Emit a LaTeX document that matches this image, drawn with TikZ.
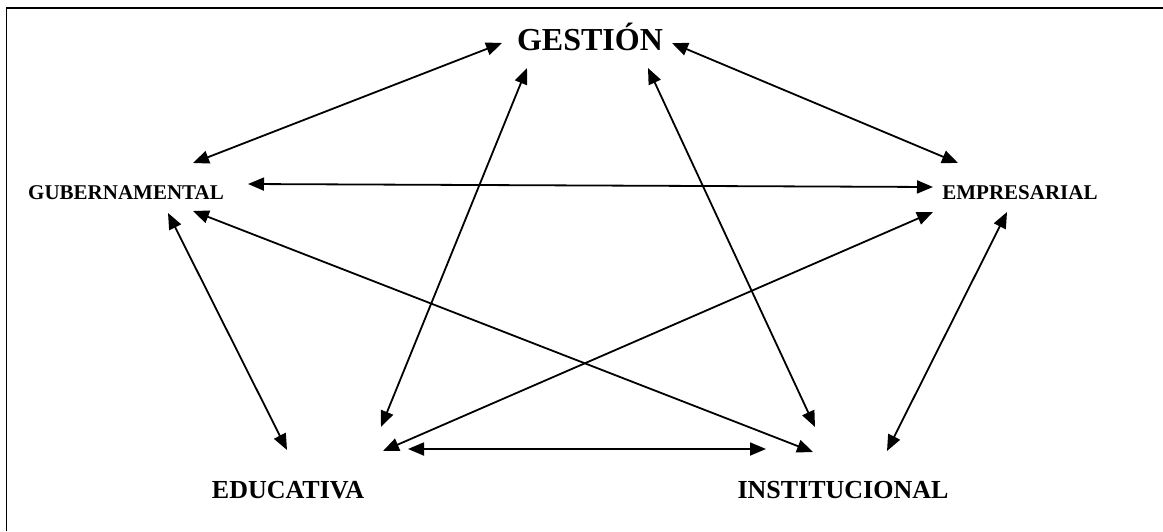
\documentclass[tikz,border=0pt]{standalone}
\usepackage{fontspec}
\setmainfont{Liberation Serif}
\usetikzlibrary{arrows.meta}
\begin{document}
\begin{tikzpicture}[x=1pt,y=-1pt,
  lbl/.style={anchor=base,inner sep=0pt,font=\bfseries},
  link/.style={line width=1.8pt,{Triangle[length=16pt,width=13pt]}-{Triangle[length=16pt,width=13pt]}}]
\useasboundingbox (0,0) rectangle (1163,531);
\draw[line width=1.8pt] (6.5,531) -- (6.5,8) -- (1163,8);
% labels
\node[lbl,font=\bfseries\fontsize{32}{38}\selectfont] (ges) at (590,50) {GESTIÓN};
\node[lbl,font=\bfseries\fontsize{21}{25}\selectfont] (gub) at (126,199) {GUBERNAMENTAL};
\node[lbl,font=\bfseries\fontsize{21}{25}\selectfont] (emp) at (1020,199) {EMPRESARIAL};
\node[lbl,font=\bfseries\fontsize{26}{31}\selectfont] (edu) at (288,498) {EDUCATIVA};
\node[lbl,font=\bfseries\fontsize{26}{31}\selectfont] (ins) at (843,498) {INSTITUCIONAL};
% endpoints
\coordinate (gesL) at (502,43);
\coordinate (gesR) at (672,43);
\coordinate (gesE) at (527,68);
\coordinate (gesI) at (648,68);
\coordinate (gubG) at (193,163);
\coordinate (gubE) at (248,184);
\coordinate (gubD) at (168,213);
\coordinate (gubI) at (193,211);
\coordinate (empG) at (958,163);
\coordinate (empW) at (933,187);
\coordinate (empD) at (933,212);
\coordinate (empI) at (1007,212);
\coordinate (eduG) at (381,427);
\coordinate (eduU) at (287,450);
\coordinate (eduE) at (383,451);
\coordinate (eduI) at (408,449);
\coordinate (insG) at (815,427);
\coordinate (insU) at (813,452);
\coordinate (insE) at (887,451);
\coordinate (insD) at (766,449);
% connectors
\draw[link] (gesL) -- (gubG);
\draw[link] (gesR) -- (empG);
\draw[link] (gesE) -- (eduG);
\draw[link] (gesI) -- (insG);
\draw[link] (gubE) -- (empW);
\draw[link] (gubD) -- (eduU);
\draw[link] (gubI) -- (insU);
\draw[link] (empD) -- (eduE);
\draw[link] (empI) -- (insE);
\draw[link] (eduI) -- (insD);
\end{tikzpicture}
\end{document}
